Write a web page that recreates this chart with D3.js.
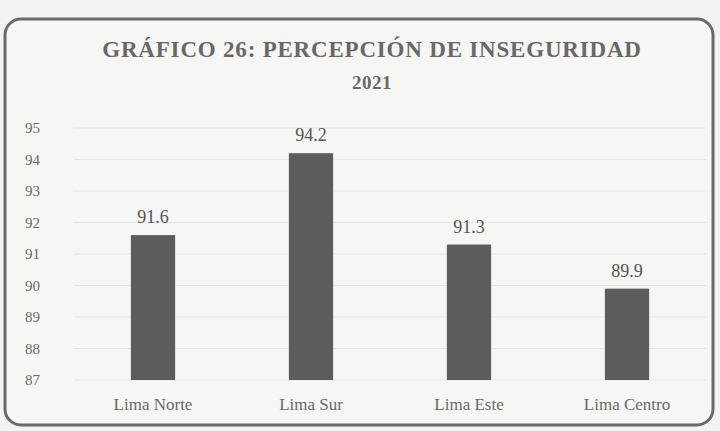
<!DOCTYPE html>
<html><head><meta charset="utf-8">
<script src="https://cdn.jsdelivr.net/npm/d3@7"></script>
<style>html,body{margin:0;padding:0;background:#f3f3f1;}svg{display:block;}</style>
</head><body>
<svg id="c" width="720" height="431"></svg>
<script>
const categories = ["Lima Norte", "Lima Sur", "Lima Este", "Lima Centro"];
const values = [91.6, 94.2, 91.3, 89.9];
const yTicks = [87, 88, 89, 90, 91, 92, 93, 94, 95];
const titleLines = ["GRÁFICO 26: PERCEPCIÓN DE INSEGURIDAD", "2021"];

const svg = d3.select("#c");
const W = 720, H = 431;
const m = {left: 74, right: 14, top: 128, bottom: 51};
const serif = "'Liberation Serif', 'DejaVu Serif', serif";

svg.append("rect").attr("x", 0).attr("y", 0).attr("width", W).attr("height", H).attr("fill", "#f3f3f1");
svg.append("rect").attr("x", 5).attr("y", 19).attr("width", 708).attr("height", 406)
  .attr("rx", 16).attr("fill", "#f6f6f4").attr("stroke", "#6a6a6a").attr("stroke-width", 3);

const x = d3.scaleBand().domain(categories).range([m.left, W - m.right]).paddingInner(0.72).paddingOuter(0.36);
const y = d3.scaleLinear().domain([87, 95]).range([H - m.bottom, m.top]);

// faint gridlines
svg.append("g").selectAll("line").data(yTicks).join("line")
  .attr("x1", m.left).attr("x2", W - m.right)
  .attr("y1", d => y(d)).attr("y2", d => y(d))
  .attr("stroke", "#e4e4e2").attr("stroke-width", 1);

const ya = svg.append("g").attr("transform", `translate(${m.left - 34},0)`)
  .call(d3.axisLeft(y).tickValues(yTicks).tickSize(0).tickPadding(0).tickFormat(d3.format("d")));
ya.select(".domain").remove();
ya.attr("font-family", serif);
ya.selectAll("text").attr("font-family", serif).attr("font-size", 15).attr("fill", "#6a6a6a");

svg.append("g").selectAll("rect").data(categories).join("rect")
  .attr("x", d => x(d)).attr("width", x.bandwidth())
  .attr("y", (d, i) => y(values[i])).attr("height", (d, i) => y(87) - y(values[i]))
  .attr("fill", "#5c5c5c");

svg.append("g").attr("font-family", serif).selectAll("text").data(categories).join("text")
  .attr("x", d => x(d) + x.bandwidth() / 2).attr("y", (d, i) => y(values[i]) - 12)
  .attr("text-anchor", "middle").attr("font-family", serif).attr("font-size", 18).attr("fill", "#555")
  .text((d, i) => values[i].toFixed(1));

const xa = svg.append("g").attr("transform", `translate(0,${H - m.bottom})`)
  .call(d3.axisBottom(x).tickSize(0).tickPadding(18));
xa.select(".domain").remove();
xa.attr("font-family", serif);
xa.selectAll("text").attr("font-family", serif).attr("font-size", 17).attr("fill", "#6a6a6a");

svg.append("g").selectAll("text").data(titleLines).join("text")
  .attr("x", 372).attr("y", (d, i) => i === 0 ? 57 : 89)
  .attr("text-anchor", "middle").attr("font-family", serif).attr("font-weight", "bold")
  .attr("letter-spacing", (d, i) => i === 0 ? 0.8 : 0.5)
  .attr("font-size", (d, i) => i === 0 ? 23 : 19).attr("fill", "#686868")
  .text(d => d);
</script>
</body></html>
